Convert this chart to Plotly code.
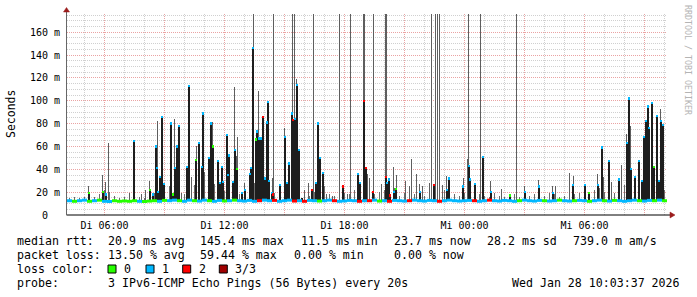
import plotly.graph_objects as go

# ---------------- axis definitions (hours since Di 00:00) ----------------
x_start, x_end = 4.125, 34.125
tick_hours = [6, 9, 12, 15, 18, 21, 24, 27, 30, 33]
tick_text = ["Di 06:00", "", "Di 12:00", "", "Di 18:00", "", "Mi 00:00", "", "Mi 06:00", ""]
minor_hours = list(range(5, 35))
y_max = 176
y_ticks = [0, 20, 40, 60, 80, 100, 120, 140, 160]
y_text = ["0\u00a0\u00a0", "20 m", "40 m", "60 m", "80 m", "100 m", "120 m", "140 m", "160 m"]

# ---------------- baseline median (ms), one value per 15 minutes ----------------
base_step = 0.25
base_med = [12.5, 12, 12.5, 13, 12, 12.5, 13, 12, 11.8, 12.5,
            12, 12.3, 12, 12.5, 12, 11.8, 12.2, 12.5, 12, 12.8,
            12.5, 13, 12.5, 12, 13, 12.5, 12.2, 13, 12.5, 12,
            12.8, 12.3, 12.5, 13, 12.5, 12.2, 12.8, 12, 12.5, 13,
            12.5, 12.8, 12, 12.5, 13, 12.2, 12.5, 12, 12.8, 12.5,
            12.2, 12.5, 13, 12.5, 12, 12.3, 12.8, 12.5, 12, 12.5,
            12.5, 13, 12.2, 12.5, 12, 12.8, 12.5, 12.2, 12.5, 13,
            12.5, 12.2, 12.8, 12.5, 12, 12.5, 13, 12.5, 12.2, 12.5,
            12.8, 12.5, 12, 12.5, 13, 12.5, 12.2, 12.8, 12.5, 12,
            12.5, 13, 12.5, 12.2, 12.8, 12.5, 12.2, 12.5, 13, 12.5,
            12.2, 12.5, 12.8, 12.5, 12, 12.5, 13, 12.5, 12.2, 12.8,
            12.5, 12, 12.5, 13, 12.5, 12.2, 12.8, 12.5, 13, 12.5]
# max ping of the baseline periods (grey fuzz above the median)
base_max = [15, 16, 14.5, 15.5, 17, 16, 18, 22, 20, 17,
            15, 16, 15, 14.5, 16, 15, 17, 19, 24, 22,
            25, 20, 23, 18, 22, 26, 20, 24, 22, 27,
            24, 21, 26, 22, 18, 20, 24, 28, 25, 27,
            22, 19, 18, 24, 26, 21, 20, 18, 17, 20,
            22, 25, 18, 17, 16, 19, 18, 22, 25, 24,
            21, 18, 20, 22, 19, 24, 17, 19, 16, 18,
            20, 17, 16, 19, 18, 22, 20, 18, 17, 19,
            23, 20, 18, 17, 16, 19, 17, 16, 15, 18,
            16, 19, 17, 18, 16, 17, 19, 18, 16, 17,
            20, 18, 19, 17, 18, 22, 24, 20, 23, 19,
            24, 26, 28, 25, 27, 29, 24, 26, 28, 22]
base_loss = [1, 0, 1, 1, 0, 1, 0, 1, 1, 0,
             0, 0, 0, 0, 1, 0, 0, 0, 1, 0,
             1, 1, 0, 1, 1, 0, 1, 1, 0, 1,
             1, 0, 1, 0, 1, 1, 1, 1, 2, 1,
             1, 2, 1, 1, 1, 2, 1, 2, 1, 1,
             0, 1, 1, 2, 1, 1, 1, 1, 2, 1,
             2, 1, 0, 1, 2, 1, 1, 1, 2, 1,
             1, 1, 1, 1, 2, 1, 1, 1, 1, 1,
             1, 2, 1, 1, 2, 1, 1, 1, 1, 1,
             0, 1, 1, 1, 1, 0, 1, 1, 0, 1,
             1, 0, 1, 1, 0, 1, 1, 0, 1, 0,
             1, 1, 1, 1, 0, 1, 1, 0, 1, 0]

# ---------------- spikes (3-minute RRD steps): hour, median ping, max ping, loss count ----------------
smoke_floor = 12.0
spk_h = [5.2, 5.9, 6.05, 6.2, 7.25, 7.45, 7.85, 8.05, 8.25, 8.4,
         8.55, 8.6, 8.65, 8.75, 8.85, 8.95, 9.3, 9.4, 9.5, 9.6,
         9.7, 9.85, 10.1, 10.2, 10.35, 10.55, 10.6, 10.7, 10.85, 10.9,
         11.0, 11.2, 11.3, 11.4, 11.65, 11.75, 11.85, 11.9, 12.1, 12.15,
         12.2, 12.4, 12.5, 12.6, 12.65, 12.85, 13.0, 13.25, 13.3, 13.4,
         13.45, 13.55, 13.6, 13.7, 13.8, 13.9, 14.0, 14.1, 14.15, 14.2,
         14.35, 14.4, 14.45, 14.75, 15.0, 15.1, 15.2, 15.35, 15.4, 15.5,
         15.6, 15.7, 15.85, 16.0, 16.2, 16.35, 16.45, 16.55, 16.65, 16.75,
         16.9, 17.1, 17.4, 17.75, 17.9, 18.15, 18.3, 18.65, 18.75, 18.95,
         19.0, 19.05, 19.15, 19.25, 19.4, 19.45, 19.85, 20.05, 20.1, 20.2,
         20.25, 20.45, 20.55, 20.6, 21.05, 21.25, 21.35, 21.6, 21.75, 21.9,
         22.25, 22.35, 22.45, 22.55, 22.65, 22.75, 22.9, 23.1, 23.2, 23.9,
         23.95, 24.15, 24.2, 24.25, 24.5, 24.8, 24.9, 25.3, 25.85, 26.25,
         26.6, 27.0, 27.7, 28.4, 28.55, 29.25, 29.4, 29.45, 30.0, 30.2,
         30.65, 30.85, 30.95, 31.2, 31.35, 31.7, 31.85, 32.1, 32.2, 32.3,
         32.5, 32.7, 32.85, 32.95, 33.05, 33.15, 33.2, 33.35, 33.45, 33.6,
         33.7, 33.8, 33.9]
spk_med = [19, 20, 18, 13, 13, 65, 13, 13, 22, 18,
           60, 41, 20, 33, 86, 27, 80, 18, 41, 60,
           78, 13, 42, 113, 13, 48, 13, 63, 42, 89,
           13, 50, 80, 60, 47, 28, 42, 29, 70, 35,
           52, 29, 57, 40, 13, 19, 22, 36, 41, 146,
           13, 66, 73, 67, 67, 86, 32, 81, 99, 30,
           19, 18, 13, 26, 68, 28, 45, 89, 83, 84,
           114, 57, 15, 13, 13, 22, 13, 28, 80, 50,
           37, 13, 13, 13, 25, 13, 13, 36, 28, 100,
           13, 41, 13, 13, 20, 13, 13, 33, 28, 31,
           17, 20, 23, 13, 13, 13, 13, 13, 20, 13,
           13, 13, 26, 13, 13, 13, 13, 22, 32, 25,
           13, 13, 43, 31, 27, 13, 51, 20, 13, 17,
           13, 20, 25, 19, 13, 13, 26, 13, 26, 19,
           26, 59, 13, 47, 13, 31, 13, 63, 102, 40,
           33, 47, 30, 68, 82, 95, 76, 98, 42, 87,
           30, 82, 79]
spk_max = [25, 35, 29, 63, 19.5, 65, 18, 22, 30, 18,
           60, 41, 82, 33, 86, 27, 80, 18, 84, 60,
           78, 19, 42, 113, 33, 48, 60, 63, 42, 89,
           38, 50, 81, 81, 47, 28, 42, 29, 70, 51,
           52, 29, 112, 52, 68, 19, 28, 36, 41, 146,
           200, 66, 73, 109, 67, 86, 32, 81, 99, 45,
           19, 32, 200, 26, 76, 28, 45, 89, 200, 200,
           119, 57, 15, 22, 28, 22, 200, 28, 80, 50,
           37, 18, 17, 200, 25, 18, 200, 36, 28, 200,
           200, 41, 36, 32, 20, 200, 27, 200, 200, 31,
           17, 42, 23, 35, 30, 25, 49, 36, 27, 25,
           28, 200, 26, 200, 200, 200, 26, 34, 32, 25,
           32, 49, 200, 31, 27, 200, 51, 30, 23, 17,
           200, 25, 31, 25, 25, 37, 26, 34, 26, 19,
           36, 59, 33, 47, 29, 31, 44, 71, 102, 78,
           33, 47, 30, 68, 82, 95, 76, 98, 42, 87,
           30, 93, 79]
spk_loss = [0, 0, 1, 1, 1, 1, 1, 1, 0, 1,
            1, 1, 1, 1, 1, 1, 1, 0, 1, 1,
            1, 1, 1, 1, 1, 0, 1, 1, 1, 1,
            1, 1, 1, 0, 1, 1, 1, 1, 1, 1,
            1, 1, 1, 0, 1, 1, 1, 1, 1, 1,
            1, 0, 1, 1, 1, 2, 1, 1, 1, 1,
            1, 2, 1, 1, 1, 1, 1, 1, 2, 1,
            1, 1, 2, 1, 1, 2, 1, 1, 1, 1,
            1, 1, 1, 1, 2, 1, 1, 1, 1, 2,
            1, 2, 1, 1, 2, 1, 1, 2, 1, 1,
            2, 1, 0, 1, 1, 1, 1, 1, 1, 1,
            1, 1, 2, 1, 1, 1, 1, 1, 1, 1,
            1, 1, 1, 1, 1, 1, 1, 1, 1, 0,
            1, 1, 1, 1, 1, 1, 1, 1, 1, 0,
            1, 1, 1, 1, 1, 1, 1, 1, 1, 1,
            1, 1, 1, 1, 1, 1, 1, 1, 0, 1,
            1, 1, 1]

loss_colors = ["#26ff00", "#00b8ff", "#ff0000", "#a00000"]
loss_labels = ["0", "1", "2", "3/3"]

# ---------------- figure ----------------
W, H = 697, 297
ML, MR, MT, MB = 67, 30, 14, 82
PW, PH = W - ML - MR, H - MT - MB
STEP = 0.05  # one RRD step (3 min) == one pixel


def PX(px):
    return (px - ML) / PW


def PY(py):
    return (H - MB - py) / PH


fig = go.Figure()
base_h = [x_start + base_step * (i + 0.5) for i in range(len(base_med))]

# grey fuzz above the baseline median
fig.add_trace(go.Bar(x=base_h, base=base_med, y=[mx - md for mx, md in zip(base_max, base_med)],
                     width=0.8 * STEP, marker=dict(color="#6a6a6a", line=dict(width=0)),
                     hoverinfo="skip"))
# grey smoke (median -> max)
fig.add_trace(go.Bar(x=spk_h, base=spk_med, y=[mx - md for mx, md in zip(spk_max, spk_med)],
                     width=0.8 * STEP, marker=dict(color="#5e5e5e", line=dict(width=0)),
                     hoverinfo="skip"))
# dark smoke (min -> median), two RRD steps wide
dk = [i for i, m in enumerate(spk_med) if m > smoke_floor + 2]
fig.add_trace(go.Bar(x=[spk_h[i] + STEP / 2 for i in dk], base=[smoke_floor] * len(dk),
                     y=[spk_med[i] - smoke_floor for i in dk],
                     width=1.8 * STEP, marker=dict(color="#1e1e1e", line=dict(width=0)),
                     hoverinfo="skip"))

# baseline median, coloured by loss
for lc in range(3):
    xs, ys = [], []
    for i, (v, l) in enumerate(zip(base_med, base_loss)):
        if l == lc:
            t = x_start + base_step * i
            xs += [t, t + base_step, None]
            ys += [v, v, None]
    fig.add_trace(go.Scatter(x=xs, y=ys, mode="lines",
                             line=dict(color=loss_colors[lc], width=3),
                             hoverinfo="skip", connectgaps=False))

# median caps on spikes
cap = [i for i, m in enumerate(spk_med) if m > 16]
fig.add_trace(go.Bar(x=[spk_h[i] + STEP / 2 for i in cap], base=[spk_med[i] - 1.0 for i in cap],
                     y=[2.0] * len(cap), width=1.8 * STEP,
                     marker=dict(color=[loss_colors[spk_loss[i]] for i in cap], line=dict(width=0)),
                     hoverinfo="skip"))

mono = "DejaVu Sans Mono"
grid_major = "#eaa3a3"
grid_minor = "#d0d0d0"

fig.update_layout(
    width=W, height=H,
    margin=dict(l=ML, r=MR, t=MT, b=MB, pad=0),
    paper_bgcolor="white", plot_bgcolor="white",
    showlegend=False, barmode="overlay", bargap=0,
    font=dict(family=mono, size=10, color="black"),
    xaxis=dict(range=[x_start, x_end], tickmode="array", tickvals=tick_hours, ticktext=tick_text,
               showgrid=True, gridcolor=grid_major, griddash="1px,1px", gridwidth=1,
               zeroline=False, showline=False, ticks="", ticklabelstandoff=3,
               tickfont=dict(family=mono, size=10, color="black"),
               minor=dict(tickmode="array", tickvals=minor_hours, showgrid=True,
                          gridcolor=grid_minor, griddash="1px,1px", gridwidth=1)),
    yaxis=dict(range=[0, y_max], tickmode="array", tickvals=y_ticks, ticktext=y_text,
               showgrid=True, gridcolor=grid_major, griddash="1px,1px", gridwidth=1,
               zeroline=False, showline=False, ticks="", ticklabelstandoff=6,
               tickfont=dict(family=mono, size=10, color="black"),
               minor=dict(dtick=5, tick0=0, showgrid=True,
                          gridcolor=grid_minor, griddash="1px,1px", gridwidth=1)),
)

shapes = []
# axes lines
shapes.append(dict(type="line", xref="paper", yref="paper", x0=PX(66.5), x1=PX(672), y0=PY(215), y1=PY(215),
                   line=dict(color="black", width=1)))
shapes.append(dict(type="line", xref="paper", yref="paper", x0=PX(66.5), x1=PX(66.5), y0=PY(215), y1=PY(10),
                   line=dict(color="#666666", width=1)))
# arrow heads
shapes.append(dict(type="path", xref="paper", yref="paper",
                   path=f"M {PX(670)} {PY(212)} L {PX(675)} {PY(215)} L {PX(670)} {PY(218)} Z",
                   fillcolor="#9b1c1c", line=dict(color="#9b1c1c", width=0.5)))
shapes.append(dict(type="path", xref="paper", yref="paper",
                   path=f"M {PX(63.5)} {PY(12)} L {PX(66.5)} {PY(7.5)} L {PX(69.5)} {PY(12)} Z",
                   fillcolor="#9b1c1c", line=dict(color="#9b1c1c", width=0.5)))
# loss colour legend squares
sq_x = [108, 146, 182.7, 219.3]
for c, x0 in zip(loss_colors, sq_x):
    shapes.append(dict(type="rect", xref="paper", yref="paper", x0=PX(x0), x1=PX(x0 + 8),
                       y0=PY(273), y1=PY(265), fillcolor=c, line=dict(color="black", width=1)))
fig.update_layout(shapes=shapes)

ann = []


def txt(s, x, y, anchor="left", size=11.6, color="black", angle=0, yanchor="middle"):
    ann.append(dict(text=s.replace(" ", "\u00a0"), x=PX(x), y=PY(y), xref="paper", yref="paper",
                    xanchor=anchor, yanchor=yanchor, showarrow=False, borderpad=0, textangle=angle,
                    font=dict(family=mono, size=size, color=color)))


txt("Seconds", 11, 114, anchor="center", size=11.5, angle=-90)
txt("RRDTOOL / TOBI OETIKER", 688, 60, anchor="center", size=8.3, color="#b4b4b4", angle=90)

rows = [
    (241, [("median rtt:", 16), ("20.9 ms avg", 106.5), ("145.4 ms max", 199.3), ("11.5 ms min", 300),
           ("23.7 ms now", 392.6), ("28.2 ms sd", 486), ("739.0 m am/s", 572)]),
    (255, [("packet loss:", 16), ("13.50 % avg", 106.5), ("59.44 % max", 199.3), ("0.00 % min", 292.6),
           ("0.00 % now", 392.6)]),
    (269, [("loss color:", 16)] + [(lab, x) for lab, x in zip(loss_labels, [123.3, 161, 197.6, 234.3])]),
    (283, [("probe:", 16), ("3 IPv6-ICMP Echo Pings (56 Bytes) every 20s", 106.5)]),
]
for y, items in rows:
    for s, x in items:
        txt(s, x, y)
txt("Wed Jan 28 10:03:37 2026", 681, 283, anchor="right")

fig.update_layout(annotations=ann)
fig.write_html("out.html")
